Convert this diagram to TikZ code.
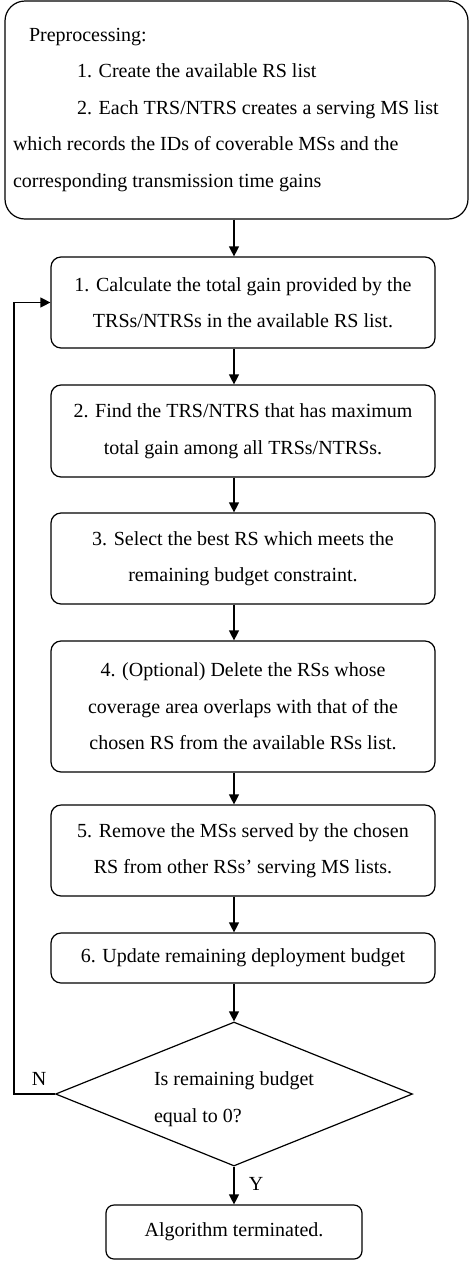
\documentclass[tikz,border=0pt]{standalone}
\usepackage{fontspec}
\setmainfont{Liberation Serif}
\usetikzlibrary{shapes.geometric,arrows.meta}
\begin{document}
\begin{tikzpicture}[x=1pt,y=-1pt,
  font=\fontsize{20}{36.5}\selectfont,
  every node/.style={inner sep=0pt},
  stepbox/.style={draw,line width=1.2pt,rounded corners=10pt,minimum width=384pt,align=center},
  arr/.style={line width=1.2pt,-{Triangle[length=10pt,width=10pt]}},
  plain/.style={line width=1.2pt}]
\useasboundingbox (0,0) rectangle (469,1262);
\node[draw,line width=1.2pt,rounded corners=20pt,text width=447pt,inner xsep=8pt,minimum height=218pt,align=flush left] (b0) at (236.5,110)
  {\hspace*{16pt}Preprocessing:\\
   \hspace*{64pt}1. Create the available RS list\\
   \hspace*{64pt}2. Each TRS/NTRS creates a serving MS list\\
   which records the IDs of coverable MSs and the\\
   corresponding transmission time gains};
\node[stepbox,minimum height=91pt] (b1) at (243,302.5)
  {1. Calculate the total gain provided by the\\TRSs/NTRSs in the available RS list.};
\node[stepbox,minimum height=92pt] (b2) at (243,431)
  {2. Find the TRS/NTRS that has maximum\\total gain among all TRSs/NTRSs.};
\node[stepbox,minimum height=91pt] (b3) at (243,558.5)
  {3. Select the best RS which meets the\\remaining budget constraint.};
\node[stepbox,minimum height=131pt] (b4) at (243,706.5)
  {4. (Optional) Delete the RSs whose\\coverage area overlaps with that of the\\chosen RS from the available RSs list.};
\node[stepbox,minimum height=91pt] (b5) at (243,850.5)
  {5. Remove the MSs served by the chosen\\RS from other RSs' serving MS lists.};
\node[stepbox,minimum height=50pt] (b6) at (243,958)
  {6. Update remaining deployment budget};
\node[draw,line width=1.2pt,shape=diamond,aspect=2.48,minimum width=357pt,minimum height=144pt] (d) at (234,1094) {};
\node[align=flush left] (dt) at (234,1099) {Is remaining budget\\equal to 0?};
\node[draw,line width=1.2pt,rounded corners=8pt,minimum width=256pt,minimum height=54pt] (t) at (234,1232) {Algorithm terminated.};
\draw[arr] (b0.south -| d.center) -- (b1.north -| d.center);
\draw[arr] (b1.south -| d.center) -- (b2.north -| d.center);
\draw[arr] (b2.south -| d.center) -- (b3.north -| d.center);
\draw[arr] (b3.south -| d.center) -- (b4.north -| d.center);
\draw[arr] (b4.south -| d.center) -- (b5.north -| d.center);
\draw[arr] (b5.south -| d.center) -- (b6.north -| d.center);
\draw[arr] (b6.south -| d.center) -- (d.north);
\draw[arr] (d.south) -- (t.north);
\draw[arr] (d.west) -- ++(-41,0) |- (b1.west);
\node (nl) at (39,1079) {N};
\node (yl) at (256,1184) {Y};
\end{tikzpicture}
\end{document}
